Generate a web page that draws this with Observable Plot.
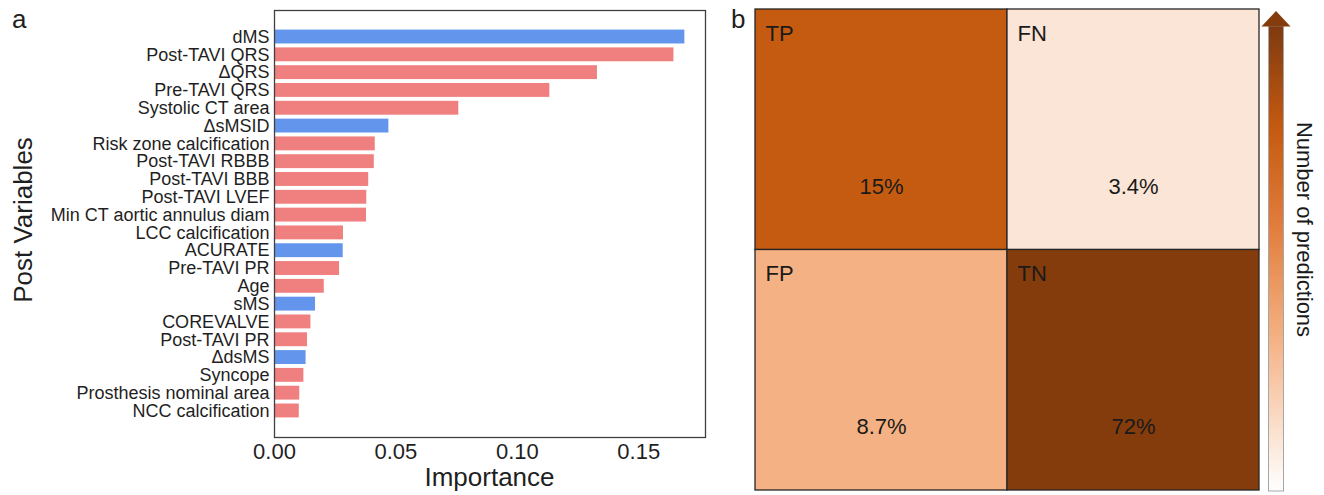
<!DOCTYPE html>
<html><head><meta charset="utf-8">
<script src="https://cdn.jsdelivr.net/npm/d3@7"></script>
<script src="https://cdn.jsdelivr.net/npm/@observablehq/plot@0.6"></script>
<style>
body{margin:0;background:#fff;font-family:"Liberation Sans",Arial,Helvetica,sans-serif;color:#1f1f1f;}
#root{position:relative;width:1324px;height:495px;overflow:hidden;background:#fff;}
#root > *{position:absolute;}
.ttl{white-space:nowrap;line-height:1;}
</style></head><body><div id="root"></div>
<script>
// ---- Panel a: feature importance ----
const features = ["dMS","Post-TAVI QRS","ΔQRS","Pre-TAVI QRS","Systolic CT area","ΔsMSID","Risk zone calcification","Post-TAVI RBBB","Post-TAVI BBB","Post-TAVI LVEF","Min CT aortic annulus diam","LCC calcification","ACURATE","Pre-TAVI PR","Age","sMS","COREVALVE","Post-TAVI PR","ΔdsMS","Syncope","Prosthesis nominal area","NCC calcification"];
const importance = [0.169,0.1645,0.133,0.1134,0.0759,0.0471,0.0415,0.0411,0.0388,0.0380,0.0379,0.0284,0.0283,0.0268,0.0205,0.0169,0.0150,0.0136,0.0130,0.0121,0.0104,0.0102];
const featureGroup = ["novel","other","other","other","other","novel","other","other","other","other","other","other","novel","other","other","novel","other","other","novel","other","other","other"];
const xTicks = [0, 0.05, 0.10, 0.15];

// ---- Panel b: confusion matrix ----
const cellLabels = ["TP","FN","FP","TN"];
const cellActual = ["Positive","Positive","Negative","Negative"];
const cellPredicted = ["Positive","Negative","Positive","Negative"];
const cellPercent = [15, 3.4, 8.7, 72];

const groupColors = ["#6495ED","#F08080"];
const cellPalette = ["#C55A11","#FBE5D6","#F4B183","#843C0C"];

const root = document.getElementById("root");
const font = '"Liberation Sans",Arial,Helvetica,sans-serif';

const barData = features.map((f,i)=>({feature:f, importance:importance[i], group:featureGroup[i]}));

const p1 = Plot.plot({
  width:720, height:495,
  marginLeft:274, marginRight:15, marginTop:10, marginBottom:58,
  style:{fontFamily:font, color:"#1f1f1f", background:"transparent"},
  x:{domain:[0,0.1775]},
  y:{domain:features, paddingInner:0.22, paddingOuter:1.1, round:false},
  color:{domain:["novel","other"], range:groupColors},
  marks:[
    Plot.barX(barData,{x:"importance", y:"feature", fill:"group"}),
    Plot.frame({stroke:"#404040", strokeWidth:1.3}),
    Plot.axisY({tickSize:0, tickPadding:5, fontSize:18, label:null}),
    Plot.axisX({ticks:xTicks, tickFormat:d3.format(".2f"), tickSize:0, tickPadding:6, fontSize:22, label:null})
  ]
});
p1.style.left="0px"; p1.style.top="0px";
root.appendChild(p1);

const cells = cellLabels.map((l,i)=>({label:l, actual:cellActual[i], predicted:cellPredicted[i], percent:cellPercent[i]}));
const p2 = Plot.plot({
  width:541, height:495,
  marginLeft:35, marginRight:2, marginTop:9, marginBottom:5,
  style:{fontFamily:font, color:"#1f1f1f", background:"transparent"},
  x:{domain:["Positive","Negative"], padding:0, round:false, axis:null},
  y:{domain:["Positive","Negative"], padding:0, round:false, axis:null},
  color:{type:"ordinal", domain:cellLabels, range:cellPalette},
  marks:[
    Plot.cell(cells,{x:"predicted", y:"actual", fill:"label", inset:0, stroke:"#262626", strokeWidth:1.3}),
    Plot.text(cells,{x:"predicted", y:"actual", text:"label", textAnchor:"start", dx:-116, dy:-96, fontSize:22, fill:"#1a1a1a"}),
    Plot.text(cells,{x:"predicted", y:"actual", text:d=>d.percent+"%", dy:57, fontSize:22, fill:"#1a1a1a"})
  ]
});
p2.style.left="720px"; p2.style.top="0px";
root.appendChild(p2);

// ---- colour bar (legend arrow) ----
const barRect = [{x1:7.5, x2:22.5, y1:26, y2:491}];
const head = [{y:11, x1:15, x2:15},{y:26.5, x1:0.5, x2:29.5}];
const p3 = Plot.plot({
  width:63, height:495, margin:0,
  style:{fontFamily:font, color:"#1f1f1f", background:"transparent", overflow:"visible"},
  x:{domain:[0,63], range:[0,63], axis:null},
  y:{domain:[0,495], range:[0,495], axis:null},
  marks:[
    () => {
      const defs = d3.create("svg:defs");
      const g = defs.append("linearGradient").attr("id","cbgrad")
        .attr("x1",0).attr("y1",1).attr("x2",0).attr("y2",0);
      [[0,"#FFFFFF"],[0.33,"#F4B183"],[0.58,"#E07B3A"],[0.78,"#C55A11"],[1,"#7E3A10"]]
        .forEach(([o,c])=>g.append("stop").attr("offset",o).attr("stop-color",c));
      return defs.node();
    },
    Plot.rect(barRect,{x1:"x1", x2:"x2", y1:"y1", y2:"y2", fill:"url(#cbgrad)", stroke:"#a6a6a6", strokeWidth:1}),
    Plot.areaX(head,{y:"y", x1:"x1", x2:"x2", fill:"#843C0C", curve:"linear"}),
    Plot.text(["Number of predictions"],{x:()=>42.5, y:()=>229, text:d=>d, rotate:90, fontSize:22, fill:"#1a1a1a"})
  ]
});
p3.style.left="1261px"; p3.style.top="0px";
root.appendChild(p3);

// ---- titles ----
function addText(txt, css){
  const d=document.createElement("div"); d.className="ttl"; d.textContent=txt;
  Object.assign(d.style, css); root.appendChild(d); return d;
}
addText("a",{left:"12px", top:"6px", fontSize:"26px"});
addText("b",{left:"731px", top:"6px", fontSize:"26px"});
addText("Importance",{left:"489.5px", top:"467px", fontSize:"26px", lineHeight:"20px", transform:"translateX(-50%)"});
addText("Post Variables",{left:"23px", top:"220px", fontSize:"26px", transform:"translate(-50%,-50%) rotate(-90deg)"});
</script></body></html>
